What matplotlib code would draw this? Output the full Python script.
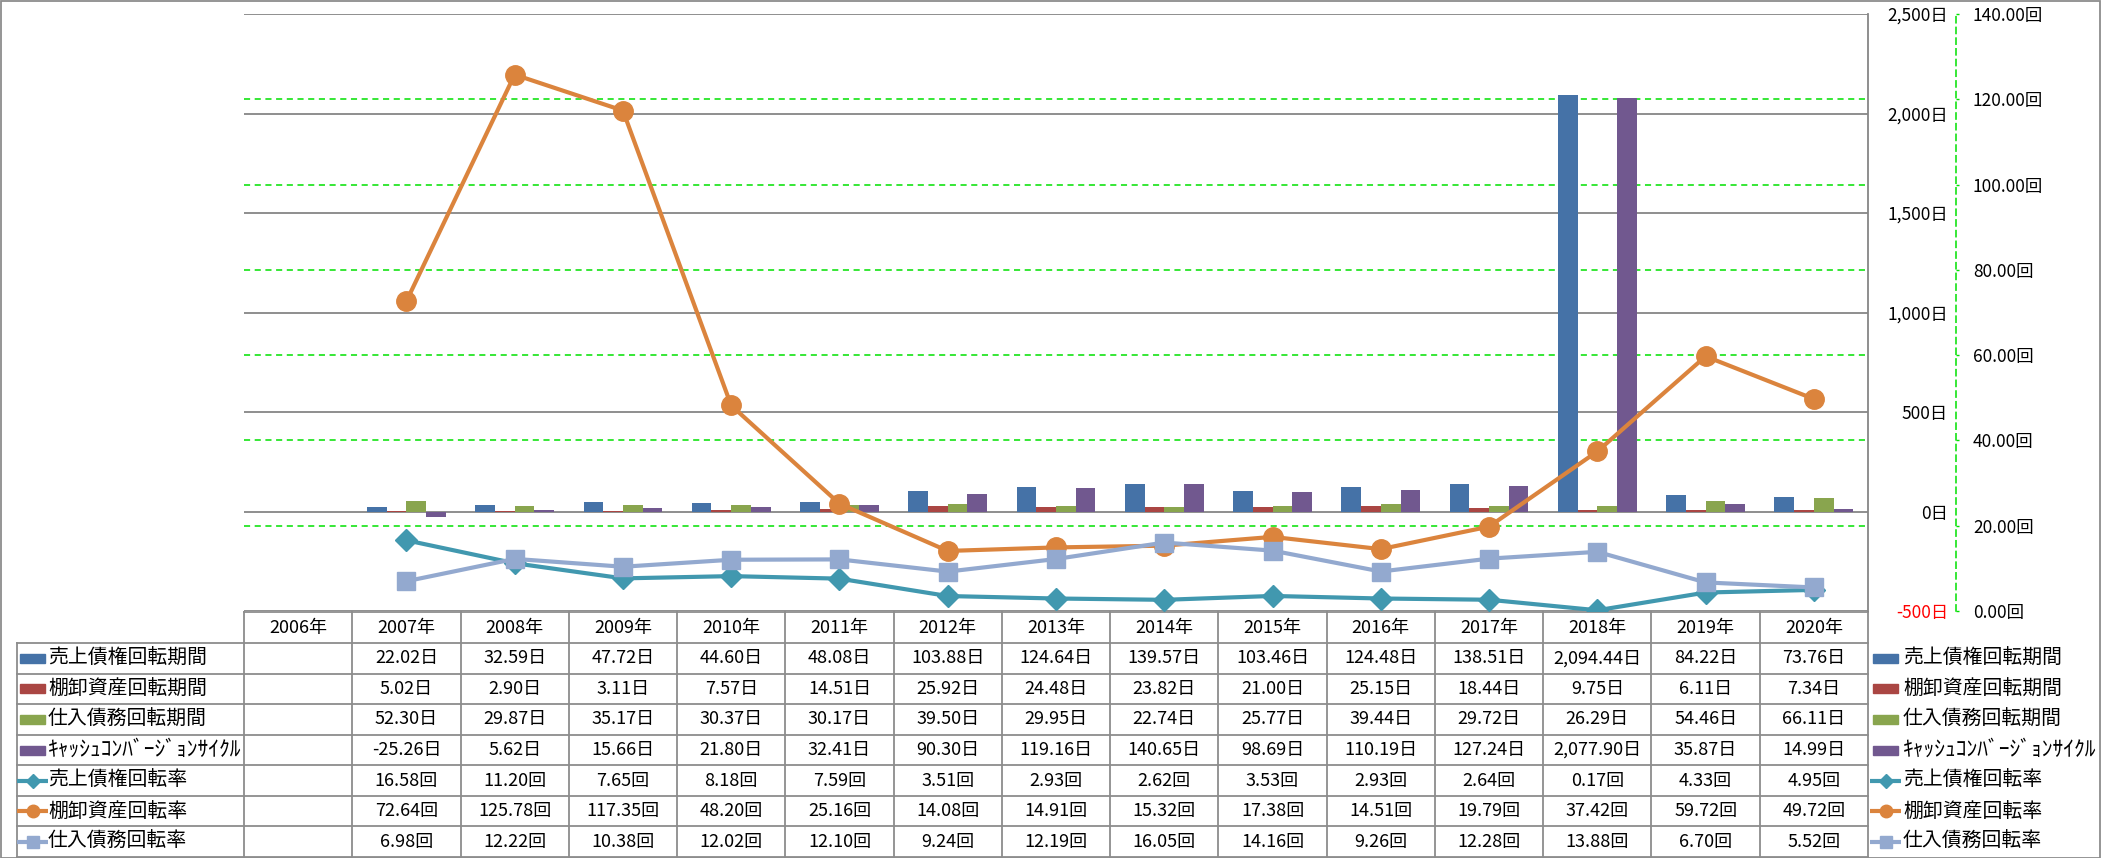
import numpy as np
import matplotlib.pyplot as plt
from matplotlib import transforms
from matplotlib.patches import Rectangle

plt.rcParams['font.family'] = ['Noto Sans CJK JP', 'DejaVu Sans']

# データ（2006年は空欄）
years = ['2006年', '2007年', '2008年', '2009年', '2010年', '2011年', '2012年', '2013年',
         '2014年', '2015年', '2016年', '2017年', '2018年', '2019年', '2020年']
nan = np.nan
ar_days = [nan, 22.02, 32.59, 47.72, 44.60, 48.08, 103.88, 124.64, 139.57, 103.46, 124.48, 138.51, 2094.44, 84.22, 73.76]
inv_days = [nan, 5.02, 2.90, 3.11, 7.57, 14.51, 25.92, 24.48, 23.82, 21.00, 25.15, 18.44, 9.75, 6.11, 7.34]
ap_days = [nan, 52.30, 29.87, 35.17, 30.37, 30.17, 39.50, 29.95, 22.74, 25.77, 39.44, 29.72, 26.29, 54.46, 66.11]
ccc_days = [nan, -25.26, 5.62, 15.66, 21.80, 32.41, 90.30, 119.16, 140.65, 98.69, 110.19, 127.24, 2077.90, 35.87, 14.99]
ar_turn = [nan, 16.58, 11.20, 7.65, 8.18, 7.59, 3.51, 2.93, 2.62, 3.53, 2.93, 2.64, 0.17, 4.33, 4.95]
inv_turn = [nan, 72.64, 125.78, 117.35, 48.20, 25.16, 14.08, 14.91, 15.32, 17.38, 14.51, 19.79, 37.42, 59.72, 49.72]
ap_turn = [nan, 6.98, 12.22, 10.38, 12.02, 12.10, 9.24, 12.19, 16.05, 14.16, 9.26, 12.28, 13.88, 6.70, 5.52]

bar_names = ['売上債権回転期間', '棚卸資産回転期間', '仕入債務回転期間', 'ｷｬｯｼｭｺﾝﾊﾞｰｼﾞｮﾝｻｲｸﾙ']
bar_data = [ar_days, inv_days, ap_days, ccc_days]
bar_colors = ['#4572A7', '#AA4643', '#89A54E', '#71588F']

line_names = ['売上債権回転率', '棚卸資産回転率', '仕入債務回転率']
line_data = [ar_turn, inv_turn, ap_turn]
line_colors = ['#4198AF', '#DB843D', '#93A9CF']
line_markers = ['D', 'o', 's']
line_msize = [11, 14, 13]
key_msize = [7, 9, 8]

W, H = 2101, 858
fig = plt.figure(figsize=(W / 100, H / 100), dpi=100)

# 表と枠線用の全面アクシス（ピクセル座標）
tab = fig.add_axes([0, 0, 1, 1], zorder=-1)
tab.set_xlim(0, W)
tab.set_ylim(H, 0)
tab.axis('off')

L, R, T, B = 244, 1868, 14, 611
ax = fig.add_axes([L / W, 1 - B / H, (R - L) / W, (B - T) / H])
ax2 = ax.twinx()

x = np.arange(len(years))
bw = 0.182
for i, (vals, c) in enumerate(zip(bar_data, bar_colors)):
    ax.bar(x + (i - 1.5) * bw, vals, bw, color=c, zorder=3)

ax.set_xlim(-0.5, len(years) - 0.5)
ax.set_ylim(-500, 2500)
ax.set_xticks([])
ax.set_yticks(range(-500, 2501, 500))
ax.set_yticklabels([f'{v:,}日' for v in range(-500, 2501, 500)])
ax.yaxis.grid(True, color='#868686', linewidth=1.3, zorder=0)
ax.set_axisbelow(True)
ax.tick_params(axis='y', left=False, labelleft=False, right=False, labelright=True,
               length=0, pad=57.6, labelsize=12.5)
for lab in ax.get_yticklabels():
    lab.set_ha('right')
ax.get_yticklabels()[0].set_color('red')
for s in ['top', 'left', 'bottom']:
    ax.spines[s].set_visible(False)
ax.spines['right'].set_color('#868686')
ax.spines['right'].set_linewidth(1.3)

# 第2軸のグリッド（棒の下に描く）
blend = transforms.blended_transform_factory(ax.transAxes, ax2.transData)
ax2.set_ylim(0, 140)
for v in range(20, 140, 20):
    ax.plot([0, 1], [v, v], transform=blend, color='#00E000', lw=1.1,
            linestyle=(0, (4, 3)), zorder=1)

ax2.set_zorder(ax.get_zorder() + 1)
ax2.patch.set_visible(False)
for vals, c, m, ms in zip(line_data, line_colors, line_markers, line_msize):
    ax2.plot(x, vals, color=c, lw=3, marker=m, markersize=ms, markeredgecolor=c,
             solid_joinstyle='round', zorder=4)
ax2.set_yticks(range(0, 141, 20))
ax2.set_yticklabels([f'{v:.2f}回' for v in range(0, 141, 20)])
ax2.tick_params(axis='y', direction='out', length=2.2, width=1, color='#00E000',
                pad=10, labelsize=12.5)
for s in ['top', 'left', 'bottom']:
    ax2.spines[s].set_visible(False)
ax2.spines['right'].set_position(('outward', 63.4))
ax2.spines['right'].set_color('#00E000')
ax2.spines['right'].set_linestyle((0, (4, 3)))
ax2.spines['right'].set_linewidth(1.1)

# データテーブル
gray = '#8C8C8C'
col_w = (R - L) / len(years)
head_top, head_bot = 612, 643
row_h = (H - 1 - head_bot) / 7
tab_left = 17
tab.plot([L, R], [head_top, head_top], color=gray, lw=1.3)
for k in range(8):
    yy = head_bot + k * row_h
    tab.plot([tab_left, R], [yy, yy], color=gray, lw=1.3)
tab.plot([tab_left, tab_left], [head_bot, H - 1], color=gray, lw=1.3)
for k in range(len(years) + 1):
    xx = L + k * col_w
    tab.plot([xx, xx], [head_top, H - 1], color=gray, lw=1.3)
for k, yr in enumerate(years):
    tab.text(L + (k + 0.5) * col_w, (head_top + head_bot) / 2, yr, ha='center',
             va='center', fontsize=13)

rows = bar_data + line_data
units = ['日'] * 4 + ['回'] * 3
names = bar_names + line_names
for r, (vals, u, nm) in enumerate(zip(rows, units, names)):
    yc = head_bot + (r + 0.5) * row_h
    for k, v in enumerate(vals):
        if not np.isnan(v):
            tab.text(L + (k + 0.5) * col_w, yc, f'{v:,.2f}{u}', ha='center', va='center',
                     fontsize=13)
    fs = 14.3 if r != 3 else 15.5
    tab.text(48, yc, nm, ha='left', va='center', fontsize=fs)
    tab.text(1903, yc, nm, ha='left', va='center', fontsize=fs)
    if r < 4:
        for x0 in (20, 1873):
            tab.add_patch(Rectangle((x0, yc - 4.5), 25, 9, color=bar_colors[r]))
    else:
        j = r - 4
        for x0 in (17, 1870):
            tab.plot([x0, x0 + 31], [yc, yc], color=line_colors[j], lw=3,
                     solid_capstyle='butt')
            tab.plot([x0 + 15.5], [yc], marker=line_markers[j], markersize=key_msize[j],
                     color=line_colors[j])

# 外枠
fig.patches.append(Rectangle((0.5 / W, 0.5 / H), 1 - 1.5 / W, 1 - 1.5 / H,
                             transform=fig.transFigure, fill=False, edgecolor=gray,
                             lw=1.3))

fig.savefig('out.png', dpi=100)
